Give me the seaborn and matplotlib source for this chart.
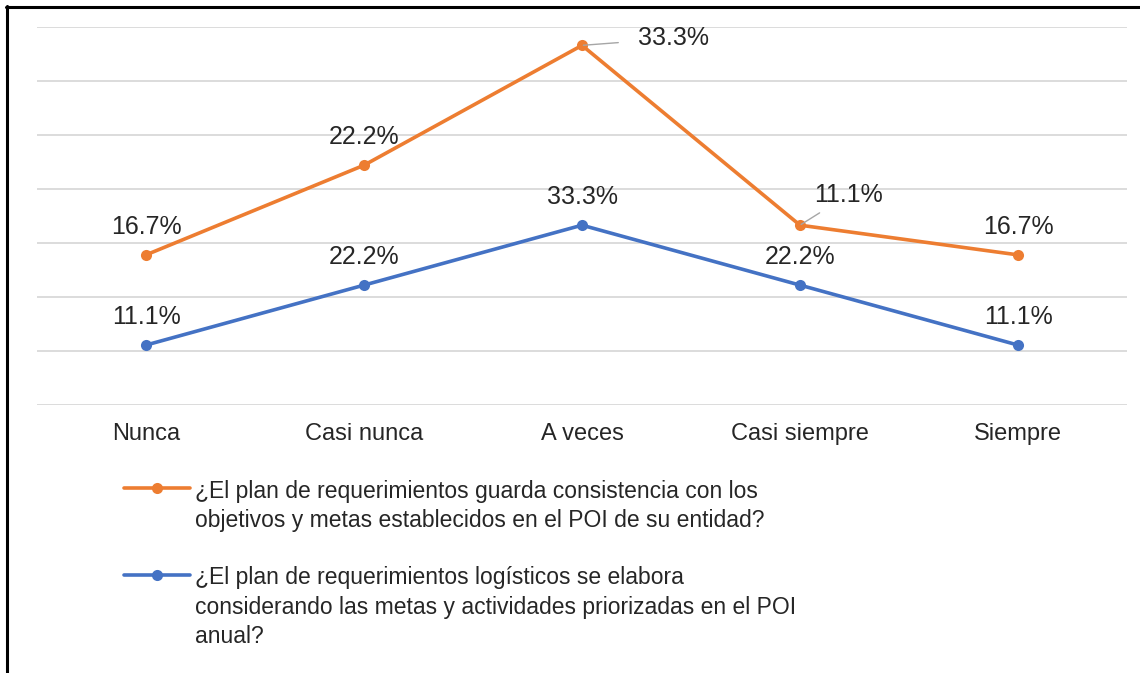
import pandas as pd
import seaborn as sns
import matplotlib.pyplot as plt
from matplotlib.lines import Line2D

categorias = ['Nunca', 'Casi nunca', 'A veces', 'Casi siempre', 'Siempre']
consistencia = [16.7, 22.2, 33.3, 11.1, 16.7]
logisticos = [11.1, 22.2, 33.3, 22.2, 11.1]

label_cons = ('¿El plan de requerimientos guarda consistencia con los\n'
              'objetivos y metas establecidos en el POI de su entidad?')
label_log = ('¿El plan de requerimientos logísticos se elabora\n'
             'considerando las metas y actividades priorizadas en el POI\n'
             'anual?')

naranja = '#ED7D31'
azul = '#4472C4'

sns.set_style('white')
plt.rcParams['font.family'] = ['Liberation Sans', 'DejaVu Sans']

df = pd.DataFrame({'categoria': categorias,
                   'logisticos': logisticos,
                   'consistencia': consistencia})
# grafico de lineas apiladas
df['apilado'] = df['logisticos'] + df['consistencia']

fig = plt.figure(figsize=(11.4, 6.73), dpi=100)
ax = fig.add_axes([37 / 1140, 1 - 405 / 673, 1090 / 1140, 378 / 673])

sns.lineplot(data=df, x='categoria', y='logisticos', color=azul, lw=2.6,
             marker='o', markersize=8, markeredgewidth=0, sort=False, ax=ax)
sns.lineplot(data=df, x='categoria', y='apilado', color=naranja, lw=2.6,
             marker='o', markersize=8, markeredgewidth=0, sort=False, ax=ax)

ax.set_xlim(-0.5, 4.5)
ax.set_ylim(0, 70)
ax.set_yticks(range(0, 71, 10))
ax.set_yticklabels([])
ax.grid(axis='y', color='#D9D9D9', lw=1.3)
ax.tick_params(axis='x', length=0, pad=13, labelsize=17, labelcolor='#262626')
ax.tick_params(axis='y', length=0)
ax.set_xlabel('')
ax.set_ylabel('')
sns.despine(ax=ax, left=True, bottom=True, top=True, right=True)

for i, v in enumerate(logisticos):
    ax.annotate(f'{v:.1f}%', (i, df['logisticos'][i]), xytext=(0, 20),
                textcoords='offset points', ha='center', va='center',
                fontsize=18, color='#262626')

for i, v in enumerate(consistencia):
    y = df['apilado'][i]
    if i == 2:
        ax.annotate(f'{v:.1f}%', (i, y), xytext=(66, 5), textcoords='offset points',
                    ha='center', va='center', fontsize=18, color='#262626',
                    arrowprops=dict(arrowstyle='-', color='#A6A6A6', lw=1,
                                    shrinkA=12, shrinkB=1))
    elif i == 3:
        ax.annotate(f'{v:.1f}%', (i, y), xytext=(35, 22), textcoords='offset points',
                    ha='center', va='center', fontsize=18, color='#262626',
                    arrowprops=dict(arrowstyle='-', color='#A6A6A6', lw=1,
                                    shrinkA=4, shrinkB=1))
    else:
        ax.annotate(f'{v:.1f}%', (i, y), xytext=(0, 20),
                    textcoords='offset points', ha='center', va='center',
                    fontsize=18, color='#262626')

handles = [Line2D([], [], color=naranja, lw=2.6, marker='o', markersize=8, markeredgewidth=0),
           Line2D([], [], color=azul, lw=2.6, marker='o', markersize=8, markeredgewidth=0)]
leg = fig.legend(handles, [label_cons, label_log], loc='upper left',
                 bbox_to_anchor=(103 / 1140, 1 - 459 / 673), frameon=False,
                 fontsize=16.5, handlelength=2.9, handletextpad=0.2, labelspacing=1.5,
                 labelcolor='#262626')
for t in leg.get_texts():
    t.set_linespacing(1.36)
# linea de la leyenda alineada con la primera linea del texto
for col in leg._legend_handle_box.get_children():
    for item in col.get_children():
        item.align = 'top'

# marco negro (superior e izquierdo)
fig.add_artist(Line2D([6 / 1140, 1], [1 - 7 / 673, 1 - 7 / 673], color='black', lw=2.2,
                      transform=fig.transFigure))
fig.add_artist(Line2D([7 / 1140, 7 / 1140], [0, 1 - 6 / 673], color='black', lw=2.2,
                      transform=fig.transFigure))

fig.savefig('out.png', dpi=100)
